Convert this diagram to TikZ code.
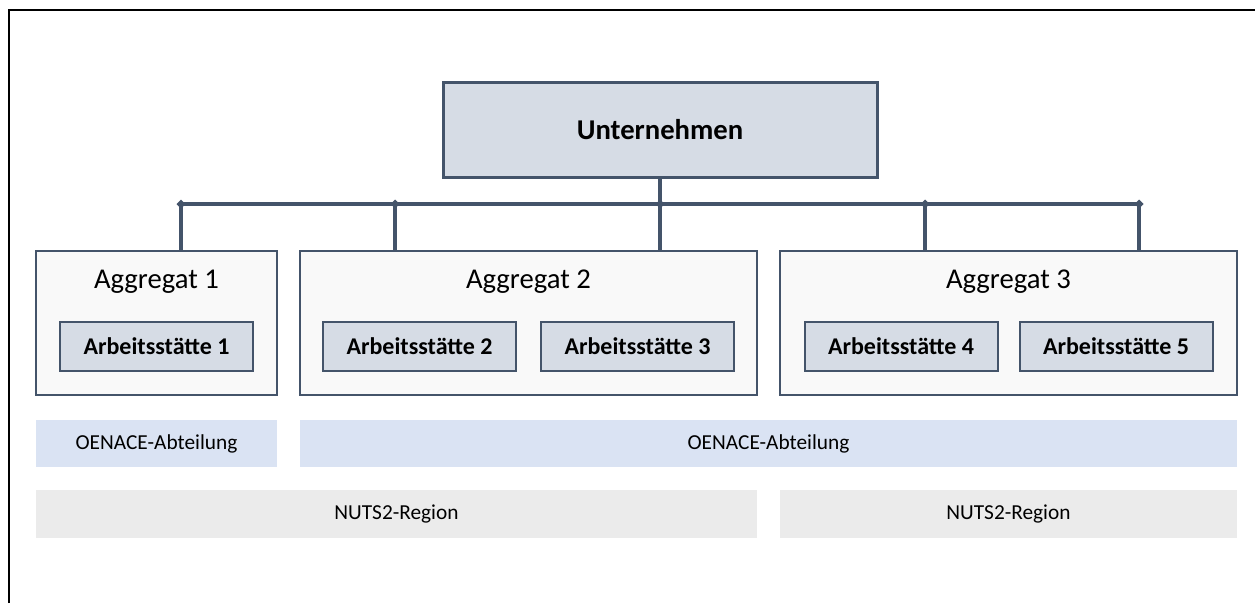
\documentclass[tikz,border=0pt]{standalone}
\usepackage{fontspec}
\setmainfont{Carlito}
\usetikzlibrary{positioning}
\definecolor{slate}{RGB}{68,84,106}
\definecolor{softslate}{RGB}{214,220,229}
\definecolor{softblue}{RGB}{218,227,243}
\definecolor{softgray}{RGB}{235,235,235}
\definecolor{paleground}{RGB}{249,249,249}

\begin{document}
\begin{tikzpicture}[x=0.75pt, y=-0.75pt,
    every node/.style={inner sep=0pt, outer sep=0pt},
    aggbox/.style={draw=slate, line width=1.5pt, fill=paleground, minimum width=342.75pt, minimum height=108pt},
    sitebox/.style={draw=slate, line width=1.5pt, fill=softslate, minimum width=144.75pt, minimum height=36.75pt, font=\fontsize{18}{21}\selectfont\bfseries},
    aggtitle/.style={font=\fontsize{21.5}{25}\selectfont},
    band/.style={minimum height=35.5pt, font=\fontsize{16}{19}\selectfont},
    conn/.style={draw=slate, line width=2.5pt}]
  \useasboundingbox (0,0) rectangle (1255,603);
  \draw[line width=1.5pt] (9,603) |- (1255,10);

    \node[draw=slate, line width=2.25pt, fill=softslate, minimum width=325.5pt, minimum height=71.25pt, font=\fontsize{21.5}{25}\selectfont\bfseries] (firm) at (660,129.5) {Unternehmen};

    \node[aggbox, minimum width=180.75pt] (agg1) at (156.5,323) {};
    \node[aggbox] (agg2) at (528.5,323) {};
    \node[aggbox] (agg3) at (1008.5,323) {};
    \node[aggtitle] (title1) at (156.5,282) {Aggregat 1};
    \node[aggtitle] (title2) at (528.5,282) {Aggregat 2};
    \node[aggtitle] (title3) at (1008.5,282) {Aggregat 3};

    \node[sitebox] (site1) at (156.5,346.5) {Arbeitsstätte 1};
    \node[sitebox] (site2) at (419.5,346.5) {Arbeitsstätte 2};
    \node[sitebox, right=18.75pt of site2] (site3) {Arbeitsstätte 3};
    \node[sitebox] (site4) at (901,346.5) {Arbeitsstätte 4};
    \node[sitebox, right=16.5pt of site4] (site5) {Arbeitsstätte 5};

    \node[band, fill=softblue, minimum width=180.75pt] (nace1) at (156.5,443.5) {OENACE-Abteilung};
    \node[band, fill=softblue, minimum width=702.75pt] (nace2) at (768.5,443.5) {OENACE-Abteilung};
    \node[band, fill=softgray, minimum width=540.75pt] (nuts1) at (396.5,514) {NUTS2-Region};
    \node[band, fill=softgray, minimum width=342.75pt] (nuts2) at (1008.5,514) {NUTS2-Region};

    % bus between firm and aggregates
    \coordinate (j1) at (181,204);
    \coordinate (j2) at (395,204);
    \coordinate (j3) at (660,204);
    \coordinate (j4) at (925,204);
    \coordinate (j5) at (1139,204);
    \draw[conn] (j1) -- (j5);
    \draw[conn] (firm.south) -- (j3);
    \draw[conn] (j1) -- (j1 |- agg1.north);
    \draw[conn] (j2) -- (j2 |- agg2.north);
    \draw[conn] (j3) -- (j3 |- agg2.north);
    \draw[conn] (j4) -- (j4 |- agg3.north);
    \draw[conn] (j5) -- (j5 |- agg3.north);
    \foreach \j in {j1,j2,j3,j4,j5}
      \fill[slate] (\j) +(-4.5,0) -- +(0,-4.5) -- +(4.5,0) -- +(0,4.5) -- cycle;
  \end{tikzpicture}
\end{document}
